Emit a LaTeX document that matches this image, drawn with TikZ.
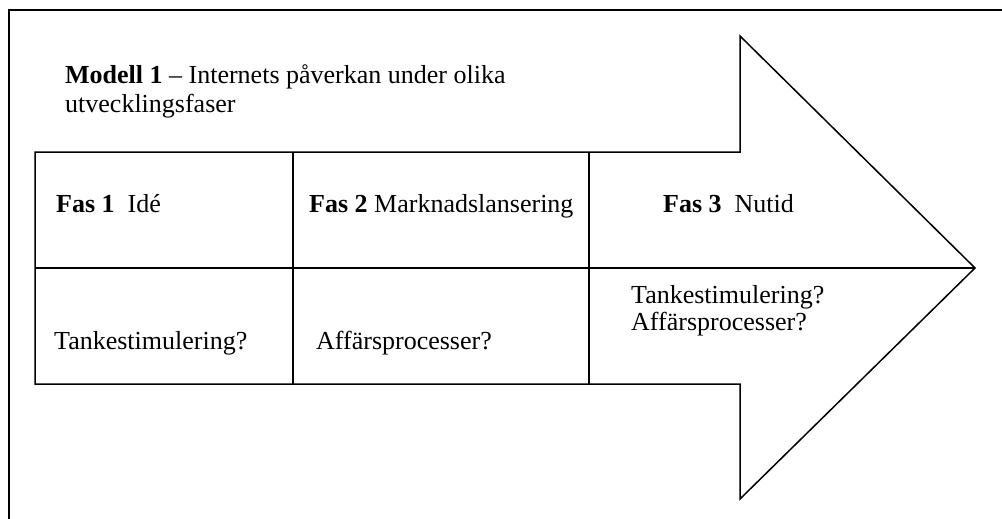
\documentclass[tikz,border=0pt]{standalone}
\usepackage{fontspec}
\setmainfont{Liberation Serif}
\begin{document}
\begin{tikzpicture}[x=1pt,y=-1pt,
  line/.style={draw=black,line width=1.5pt},
  txt/.style={anchor=base west,inner sep=0pt,font=\fontsize{26}{31}\selectfont}]
\useasboundingbox[fill=white] (0,0) rectangle (1002,519);
% outer frame (only top and left visible)
\draw[line width=2pt] (9,530) -- (9,10) -- (1010,10);
% arrow
\draw[line,line join=miter] (35,152) -- (740,152) -- (740,36) -- (975,268) -- (740,499) -- (740,384) -- (35,384) -- cycle;
\draw[line] (35,268) -- (975,268);
\draw[line] (293,152) -- (293,384);
\draw[line] (589,152) -- (589,384);
% texts
\node[txt] (title1) at (65,84) {\textbf{Modell 1} -- Internets påverkan under olika};
\node[txt] (title2) at (65,113) {utvecklingsfaser};
\node[txt] (f1) at (56,212) {\textbf{Fas 1}\ \ Idé};
\node[txt] (f2) at (309,212) {\textbf{Fas 2} Marknadslansering};
\node[txt] (f3) at (663,212) {\textbf{Fas 3}\ \ Nutid};
\node[txt] (c1) at (54,349) {Tankestimulering?};
\node[txt] (c2) at (316,349) {Affärsprocesser?};
\node[txt] (c3a) at (631,303) {Tankestimulering?};
\node[txt] (c3b) at (631,330) {Affärsprocesser?};
\end{tikzpicture}
\end{document}
